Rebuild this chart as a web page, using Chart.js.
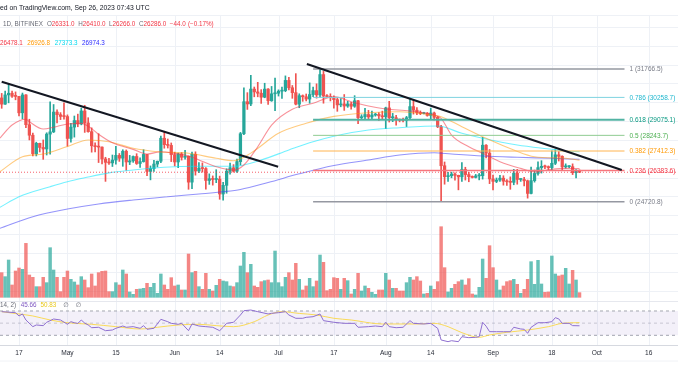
<!DOCTYPE html>
<html><head><meta charset="utf-8">
<script src="https://cdn.jsdelivr.net/npm/chart.js@4.4.0/dist/chart.umd.min.js"></script>
<style>html,body{margin:0;padding:0;background:#fff;overflow:hidden}canvas{display:block}</style>
</head><body>
<canvas id="c" width="678" height="381"></canvas>
<script>
// ---------- DATA (day 0 = Apr 17, 2023; first candle Apr 12 = day -5) ----------
const firstDay = -5;
const opens = [
30230,29900,30390,30480,30320,30310,29440,30390,28810,28250,27270,27820,27600,27520,28310,28430,29480,29340,29250,
29240,28080,28680,29030,28850,29540,28900,28440,27690,27640,27620,26990,26810,26780,26930,27180,27030,27400,26830,26890,27120,26750,26850,27230,26330,26480,26720,26870,28090,27750,27710,
27220,26830,27250,27080,27130,25760,27240,26350,26500,26480,25850,25940,25900,25920,25130,25590,26340,26520,26340,26850,28330,30030,29910,30700,30550,30480,30270,30700,30080,30450,
30480,30590,30620,31160,30770,30510,29900,30350,30290,30170,30410,30620,30390,31470,30330,30300,30240,30140,29860,29910,29800,29910,29790,30080,29180,29230,29350,29220,29320,29360,29280,
29230,29700,29180,29180,29080,29050,29040,29180,29770,29580,29440,29400,29420,29300,29430,29200,28700,26630,26050,26100,26190,26120,26040,26430,26160,26050,26010,26090,26100,27720,27300,
25930,25800,25870,25970,25810,25780,25750,26240,25900,25900,25830,25160,25840,26220,26530,26600,26570,26530,26760,27210,27130,26570,26580,26580,26260,26331];
const highs = [
30470,30600,31000,30590,30550,30320,30490,30410,29100,28370,27880,27830,28000,28380,30020,29880,29600,29450,29970,
29330,28880,29270,29370,29690,29840,29180,28640,27850,28330,27640,27080,27030,27200,27660,27280,27480,27470,27180,27150,27270,27050,27480,27240,26620,26920,26880,28200,28460,28050,27840,
27350,27300,27330,27450,27150,27350,27370,26800,26780,26530,26200,26090,26420,26080,25750,26470,26770,26690,26990,28400,30770,30510,31430,30810,31060,30670,31010,30720,30840,31280,
30660,30800,31400,31330,30890,31520,30450,30390,30440,31030,30800,30980,31766,31640,30410,30450,30340,30240,30190,30410,30050,29990,30350,30100,29340,29680,29570,29530,29410,29450,29530,
29740,30050,29410,29310,29110,29160,29250,30200,30120,29720,29540,29470,29460,29690,29480,29250,28780,26830,26280,26290,26250,26130,26800,26550,26280,26090,26170,26220,28140,27750,27490,
26140,25980,26120,26100,25890,26040,26440,26440,25950,26020,25870,26560,26400,26840,26900,26670,26620,27420,27480,27380,27160,26730,26640,26730,26420,26410];
const lows = [
29680,29880,29970,30260,30130,29280,29120,28650,28000,27150,27150,27360,26970,27200,27250,28390,28900,29080,29100,
27670,27880,28150,28700,28800,28400,28410,27350,27360,26800,26730,25800,26700,26590,26720,26860,26600,26390,26690,26810,26700,26540,26820,26100,25880,26330,26570,26790,27560,27570,26850,
26620,26530,26930,26980,25380,25410,26130,26260,26290,25390,25640,25600,25730,24850,24800,25170,26180,26290,26270,26670,28280,29620,29820,30290,30290,29940,30240,29880,30050,29560,
30330,30200,30560,30650,30210,29860,29710,30050,30070,29950,30300,30220,30260,29950,30270,30070,29680,29520,29760,29570,29730,29640,29730,28870,29080,29120,29080,29130,29260,29040,29100,
28600,28950,28970,28790,28960,28960,28710,29120,29370,29340,29340,29380,29260,29100,29060,28650,24721,25650,25800,25990,25860,25350,25800,25870,25780,25980,25980,25880,25920,27050,25680,
25350,25730,25800,25600,25580,25380,25620,25650,25800,25560,24910,25130,25760,26130,26240,26480,26410,26410,26690,26880,26370,26500,26530,26160,25990,26266];
const closes = [
29900,30390,30480,30320,30310,29440,30390,28810,28250,27270,27820,27600,27520,28310,28430,29480,29340,29250,29240,
28080,28680,29030,28850,29540,28900,28440,27690,27640,27620,26990,26810,26780,26930,27180,27030,27400,26830,26890,27120,26750,26850,27230,26330,26480,26720,26870,28090,27750,27710,27220,
26830,27250,27080,27130,25760,27240,26350,26500,26480,25850,25940,25900,25920,25130,25590,26340,26520,26340,26850,28330,30030,29910,30700,30550,30480,30270,30700,30080,30450,30480,
30590,30620,31160,30770,30510,29900,30350,30290,30170,30410,30620,30390,31470,30330,30300,30240,30140,29860,29910,29800,29910,29790,30080,29180,29230,29350,29220,29320,29360,29280,29230,
29700,29180,29180,29080,29050,29040,29180,29770,29580,29440,29400,29420,29300,29430,29200,28700,26630,26050,26100,26190,26120,26040,26430,26160,26050,26010,26090,26100,27720,27300,25930,
25800,25870,25970,25810,25780,25750,26240,25900,25900,25830,25160,25840,26220,26530,26600,26570,26530,26760,27210,27130,26570,26580,26580,26260,26331,26286];
const volumes = [
74,62,112,37,79,88,84,162,67,60,32,32,60,44,149,82,60,17,60,
79,54,46,37,62,52,29,70,34,74,78,79,17,17,44,37,82,70,16,9,24,25,27,42,30,42,12,70,37,24,59,
34,37,22,22,130,74,78,32,24,72,24,19,36,54,49,47,34,32,44,94,135,74,99,34,30,47,50,52,44,139,
44,32,60,74,52,102,54,22,34,57,32,49,127,105,20,24,59,57,24,57,50,10,24,72,19,34,27,15,9,22,22,
72,52,27,27,19,19,44,60,52,62,49,10,12,34,24,47,212,89,16,27,39,47,52,37,56,10,7,30,115,57,155,
89,52,22,34,47,50,54,39,12,24,54,107,39,111,40,15,16,124,70,64,67,87,40,81,52,14];

// moving averages: [day, price]
const ma1 = [[-5.5,28100],[-2,28790],[2,29100],[3,28970],[7,28580],[10,28670],[14,28850],[18,28880],[21,28600],[23,28300],[27,27850],[33,27500],[37,27250],[41,27375],[45,27290],[49,27150],[52,26935],[57,26580],[62,26400],[65,26670],[69,27640],[73,28790],[79,29630],[85,29950],[91,30300],[96,30030],[101,29800],[106,29640],[113,29540],[120,29320],[122,29150],[125,28260],[130,27640],[134,27290],[139,26845],[145,26490],[149,26310],[154,26440],[158,26490],[162,26478]];
const ma2 = [[-5.5,26314],[1,27110],[7,27250],[14,27650],[20,27997],[26,27906],[33,27556],[40,27375],[49,27290],[57,27025],[62,26898],[67,27300],[75,28353],[83,28883],[91,29250],[101,29446],[110,29500],[120,29300],[122,29234],[128,28703],[135,28087],[143,27466],[149,27110],[158,27025],[162,26927]];
const ma3 = [[-5.5,24420],[0,24986],[9,25517],[14,25783],[19,25990],[26,26250],[33,26404],[38,26494],[45,26579],[52,26600],[62,26600],[70,26935],[78,27466],[85,27906],[91,28200],[101,28528],[110,28650],[121,28740],[128,28353],[134,28087],[144,27731],[154,27503],[158,27413],[162,27373]];
const ma4 = [[-5.5,23309],[4,23924],[14,24330],[23,24600],[33,24811],[43,24986],[52,25130],[59,25250],[64,25370],[72,25740],[81,26200],[91,26640],[101,26935],[110,27200],[120,27322],[125,27253],[134,27147],[144,27078],[154,27025],[162,26974]];
const maLegend = ['26478.1','26926.8','27373.3','26974.3'];

// RSI and its moving average: [day, value]
const rsi = [[-5,68.9],[-1,67.2],[0,61.8],[1,65.1],[2,55.2],[4,44.2],[5,47],[7,45.9],[8,51.4],[10,56.8],[12,55.2],[14,48.1],[15,52.4],[16,50.7],[17,49.5],[18,55.2],[19,50],[20,47],[21,42.5],[23,43.2],[25,37.6],[27,38.7],[28,41.5],[30,45.3],[31,43.2],[33,44.2],[35,41.5],[36,45.9],[37,39.9],[39,41.5],[41,56.3],[43,52.4],[44,49.7],[46,48.1],[47,49.7],[49,37.6],[50,48.6],[52,45.3],[54,44.2],[56,43.2],[58,37.6],[59,43.2],[60,49.7],[62,51.4],[64,63.4],[65,70.5],[67,71.6],[69,68.9],[72,65.1],[73,66.2],[75,67.2],[77,68.9],[78,63.4],[80,58],[82,58],[83,59.6],[85,60.6],[87,65.1],[88,54.1],[91,51.4],[94,49.7],[97,49.7],[98,43.2],[101,44.2],[103,45.3],[105,44.2],[106,51.4],[107,44.2],[109,42.5],[111,43.2],[113,54.1],[114,49.7],[117,48.6],[119,49.7],[121,41.5],[122,22.3],[124,19.5],[125,21.1],[127,19.5],[128,27.7],[130,26.1],[132,26.7],[133,27.7],[134,51.4],[135,45],[136,36],[138,35.9],[140,35.9],[142,35.9],[143,43.2],[145,40.4],[146,39.9],[147,33.3],[148,43.2],[150,50.7],[152,50.7],[154,52.4],[155,59],[156,57],[157,49.7],[159,49.7],[160,45.9],[162,45.66]];
const rsiMa = [[-5,68.9],[0,65.1],[4,61.8],[9,55.2],[14,50.7],[21,48.1],[28,44.2],[35,40.4],[40,43.2],[46,47],[52,48.1],[57,45.9],[62,44.2],[68,52.4],[72,63.4],[76,68.9],[81,66],[86,63.4],[91,58],[96,55.2],[105,48.6],[115,48.6],[120,49.7],[124,44.2],[128,34.3],[133,26.7],[136,30.5],[141,34.9],[147,38.7],[153,44.2],[157,49.7],[162,50.83]];
const rsiLegend = ['45.66','50.83'];
const rsiBands = [70, 50, 30];

// drawings
const fibLevels = ['1','0.786','0.618','0.5','0.382','0.236','0'];
const fibPrices = [31766.5, 30258.7, 29075.1, 28243.7, 27412.3, 26383.6, 24720.8];
const fibSpan = [85, 175];
const trend1 = [[-5, 31093], [74.9, 26579]];
const trend2 = [[83.2, 32031], [174.2, 26404]];
const lastChange = ['−44.0', '(−0.17%)'];

// time axis
const tickDays = [0, 14, 28, 45, 58, 75, 91, 106, 119, 137, 154, 167, 182];
const tickLabels = ['17','May','15','Jun','14','Jul','17','Aug','14','Sep','18','Oct','16'];

// ---------- STYLE ----------
const UP = '#26a69a', DOWN = '#ef5350';
const fibColors = ['#9598a1','#7fd3e0','#52b3a3','#8fcb92','#ffb451','#f6767d','#9598a1'];
const fibText = ['#787b86','#22b8cf','#089981','#4caf50','#ff9800','#f23645','#787b86'];
const fibWidth = [1.5,1,2,1,1,1.5,1.5];
const FONT = '"Liberation Sans", Arial, "DejaVu Sans", sans-serif';
const xMin = -5.49, xMax = 190.46;

const n = closes.length;
const isUp = closes.map((c, i) => c >= opens[i]);
const dayAt = i => firstDay + i;
const pts = arr => arr.map(p => ({x: p[0], y: p[1]}));
const flat = (v) => [{x: xMin, y: v}, {x: xMax, y: v}];

const datasets = [];
// volume
datasets.push({type:'bar', yAxisID:'yV', xAxisID:'x', order:100, grouped:false, barThickness:2.8, borderWidth:0,
  data: volumes.map((v,i)=>({x:dayAt(i), y:v})),
  backgroundColor: isUp.map(u => u ? 'rgba(38,166,154,0.7)' : 'rgba(239,83,80,0.7)')});
// RSI bands
datasets.push({type:'line', yAxisID:'yR', order:95, data: flat(rsiBands[0]), pointRadius:0, borderWidth:1,
  borderColor:'#a3a6af', borderDash:[3,3], fill:{value: rsiBands[2]}, backgroundColor:'rgba(126,87,194,0.09)'});
datasets.push({type:'line', yAxisID:'yR', order:95, data: flat(rsiBands[1]), pointRadius:0, borderWidth:1,
  borderColor:'rgba(149,152,161,0.45)', borderDash:[3,3], fill:false});
datasets.push({type:'line', yAxisID:'yR', order:95, data: flat(rsiBands[2]), pointRadius:0, borderWidth:1,
  borderColor:'#a3a6af', borderDash:[3,3], fill:false});
// wicks and bodies
datasets.push({type:'bar', yAxisID:'yP', order:60, grouped:false, barThickness:1, borderWidth:0, minBarLength:1,
  data: closes.map((c,i)=>({x:dayAt(i), y:[lows[i], highs[i]]})),
  backgroundColor: isUp.map(u => u ? UP : DOWN)});
datasets.push({type:'bar', yAxisID:'yP', order:55, grouped:false, barThickness:2.6, borderWidth:0, minBarLength:1,
  data: closes.map((c,i)=>({x:dayAt(i), y:[opens[i], c]})),
  backgroundColor: isUp.map(u => u ? UP : DOWN)});
// moving averages
const maCols = ['rgba(242,54,69,0.55)','rgba(255,152,0,0.5)','rgba(0,229,255,0.55)','rgba(60,60,245,0.55)'];
[ma1, ma2, ma3, ma4].forEach((m, k) => datasets.push({type:'line', yAxisID:'yP', order:50, data: pts(m),
  pointRadius:0, borderWidth:1.1, borderColor: maCols[k], fill:false, cubicInterpolationMode:'monotone'}));
// last price line
datasets.push({type:'line', yAxisID:'yP', order:45, data: flat(closes[n-1]), pointRadius:0, borderWidth:1,
  borderColor:'rgba(242,54,69,0.8)', borderDash:[1,2], fill:false});
// fib levels
fibPrices.forEach((p, k) => datasets.push({type:'line', yAxisID:'yP', order:40,
  data:[{x:fibSpan[0], y:p},{x:fibSpan[1], y:p}], pointRadius:0, borderWidth: fibWidth[k], borderColor: fibColors[k], fill:false}));
// trend lines
[trend1, trend2].forEach(t => datasets.push({type:'line', yAxisID:'yP', order:30, data: pts(t),
  pointRadius:0, borderWidth:2, borderColor:'#131722', fill:false}));
// RSI lines
datasets.push({type:'line', yAxisID:'yR', order:20, data: pts(rsiMa), pointRadius:0, borderWidth:1,
  borderColor:'rgba(250,214,60,0.85)', fill:false, cubicInterpolationMode:'monotone'});
datasets.push({type:'line', yAxisID:'yR', order:19, data: pts(rsi), pointRadius:0, borderWidth:1,
  borderColor:'#8e6fd0', fill:false, tension:0});

const RSI_PANE_TOP = 86.5; // RSI value at the pane divider

const panes = {
  id: 'panes',
  beforeDatasetsDraw(chart) {
    const {ctx, chartArea: a, scales: {x, yP, yR}} = chart;
    ctx.save();
    ctx.lineWidth = 1;
    ctx.strokeStyle = '#eef1f6';
    const sep = Math.round(yR.getPixelForValue(RSI_PANE_TOP)) + 0.5;
    tickDays.forEach(d => {
      const px = Math.round(x.getPixelForValue(d)) + 0.5;
      ctx.beginPath(); ctx.moveTo(px, a.top); ctx.lineTo(px, a.bottom); ctx.stroke();
    });
    for (let p = 20000; p <= 34000; p += 1000) {
      const py = Math.round(yP.getPixelForValue(p)) + 0.5;
      if (py > sep - 4 || py < a.top) continue;
      ctx.beginPath(); ctx.moveTo(a.left, py); ctx.lineTo(a.right, py); ctx.stroke();
    }
    ctx.beginPath(); ctx.moveTo(a.left, a.top + 0.5); ctx.lineTo(a.right, a.top + 0.5); ctx.stroke();
    ctx.strokeStyle = '#e6e8ee';
    ctx.beginPath(); ctx.moveTo(a.left, sep); ctx.lineTo(a.right, sep); ctx.stroke();
    ctx.strokeStyle = '#d6d9e0';
    ctx.beginPath(); ctx.moveTo(a.left, a.bottom + 0.5); ctx.lineTo(a.right, a.bottom + 0.5); ctx.stroke();
    ctx.strokeStyle = '#f0f2f6';
    ctx.beginPath(); ctx.moveTo(a.left, a.bottom + 16); ctx.lineTo(a.right, a.bottom + 16); ctx.stroke();
    ctx.restore();
  },
  afterDraw(chart) {
    const {ctx, chartArea: a, scales: {x, yP, yR}} = chart;
    ctx.save();
    ctx.textBaseline = 'middle';
    const seq = (items, x0, y, gap) => {
      let cx = x0;
      items.forEach(([t, c, g]) => { ctx.fillStyle = c; ctx.fillText(t, cx, y); cx += ctx.measureText(t).width + (g === undefined ? gap : g); });
    };
    // header
    ctx.font = '6.8px ' + FONT;
    ctx.fillStyle = '#131722';
    ctx.fillText('ed on TradingView.com, Sep 26, 2023 07:43 UTC', 0, 8);
    ctx.font = '6.3px ' + FONT;
    const red = '#f23645', grey = '#6a6d78';
    const f1 = v => v.toFixed(1);
    seq([['1D, BITFINEX', grey, 4], ['O', grey, 0], [f1(opens[n-1]), red], ['H', grey, 0], [f1(highs[n-1]), red],
         ['L', grey, 0], [f1(lows[n-1]), red], ['C', grey, 0], [f1(closes[n-1]), red], [lastChange[0], red, 2.2], [lastChange[1], red]], 3, 24, 3.6);
    const legCols = ['#f23645','#ff9800','#00d8ef','#2b2bff'];
    seq(maLegend.map((t, k) => [t, legCols[k]]), 0, 43, 4.6);
    // RSI legend
    seq([['(14, 2)', grey, 4.5], [rsiLegend[0], '#7e57c2'], [rsiLegend[1], '#e8c81a', 7], ['∅', grey, 7], ['∅', grey]], -2, 305.5, 4);
    // fib labels
    const lx = x.getPixelForValue(fibSpan[1]) + 5;
    ctx.font = '6.5px ' + FONT;
    fibPrices.forEach((p, k) => {
      ctx.fillStyle = fibText[k];
      ctx.fillText(fibLevels[k] + ' (' + p.toFixed(1) + ')', lx, yP.getPixelForValue(p) + 0.5);
    });
    // time labels
    ctx.font = '6.6px ' + FONT;
    ctx.fillStyle = '#2a2e39';
    ctx.textAlign = 'center';
    tickDays.forEach((d, k) => ctx.fillText(tickLabels[k], x.getPixelForValue(d), a.bottom + 8));
    ctx.restore();
  }
};

new Chart(document.getElementById('c'), {
  type: 'bar',
  data: { datasets },
  options: {
    responsive: false, animation: false, devicePixelRatio: 1, events: [],
    layout: { padding: { top: 15, bottom: 36, left: 0, right: 0 } },
    plugins: { legend: { display: false }, tooltip: { enabled: false } },
    scales: {
      x: { type: 'linear', min: xMin, max: xMax, offset: false, display: false },
      yP: { type: 'linear', min: 17113, max: 34633, display: false },
      yV: { type: 'linear', min: -143.2, max: 847.7, display: false },
      yR: { type: 'linear', min: 14.03, max: 557.2, display: false }
    }
  },
  plugins: [panes]
});
</script>
</body></html>
